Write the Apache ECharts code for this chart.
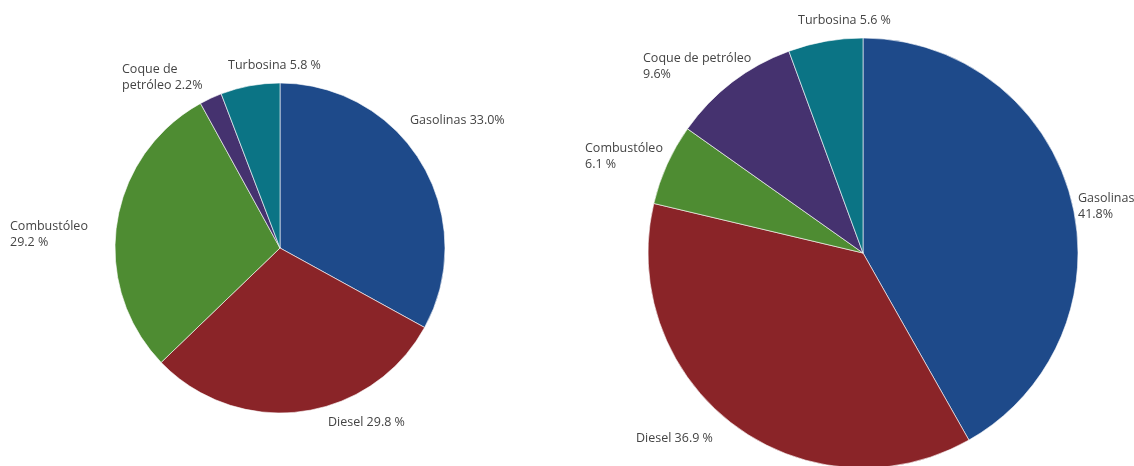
<!DOCTYPE html>
<html>
<head>
<meta charset="utf-8">
<script src="https://cdn.jsdelivr.net/npm/echarts@6/dist/echarts.min.js"></script>
<style>
  html, body { margin: 0; padding: 0; background: #fff; }
  #chart { width: 1134px; height: 466px; }
</style>
</head>
<body>
<div id="chart"></div>
<script>
// datos
const categories = ['Gasolinas', 'Diesel', 'Combustóleo', 'Coque de petróleo', 'Turbosina'];
const valuesLeft = [33.0, 29.8, 29.2, 2.2, 5.8];
const valuesRight = [41.8, 36.9, 6.1, 9.6, 5.6];
const labelsLeft = ['Gasolinas 33.0%', 'Diesel 29.8 %', 'Combustóleo\n29.2 %', 'Coque de\npetróleo 2.2%', 'Turbosina 5.8 %'];
const labelsRight = ['Gasolinas\n41.8%', 'Diesel 36.9 %', 'Combustóleo\n6.1 %', 'Coque de petróleo\n9.6%', 'Turbosina 5.6 %'];

const colors = ['#1e4a8a', '#8a2428', '#4e8c32', '#45326f', '#0b7485'];

// posiciones de etiquetas (x, y arriba-izquierda)
const posLeft = [[410, 112], [328, 414], [10, 218], [122, 61], [228, 57]];
const posRight = [[1078, 190], [636, 430], [585, 140], [643, 50], [798, 12]];

const chart = echarts.init(document.getElementById('chart'));

function makeSeries(values, labels, pos, center, radius) {
  return {
    type: 'pie',
    center: center,
    radius: radius,
    startAngle: 90,
    clockwise: true,
    silent: true,
    itemStyle: { borderColor: 'rgba(255,255,255,0.6)', borderWidth: 1 },
    label: {
      show: true,
      formatter: p => labels[p.dataIndex],
      color: '#444',
      fontFamily: 'Open Sans',
      fontSize: 12.5,
      lineHeight: 16,
      overflow: 'none',
      bleedMargin: 0
    },
    labelLine: { show: false },
    labelLayout: p => ({
      x: pos[p.dataIndex][0],
      y: pos[p.dataIndex][1],
      align: 'left',
      verticalAlign: 'top',
      width: 200
    }),
    data: categories.map((c, i) => ({ name: c, value: values[i], itemStyle: { color: colors[i] } }))
  };
}

chart.setOption({
  animation: false,
  series: [
    makeSeries(valuesLeft, labelsLeft, posLeft, [280, 248], 165),
    makeSeries(valuesRight, labelsRight, posRight, [863, 253], 215)
  ]
});
</script>
</body>
</html>
